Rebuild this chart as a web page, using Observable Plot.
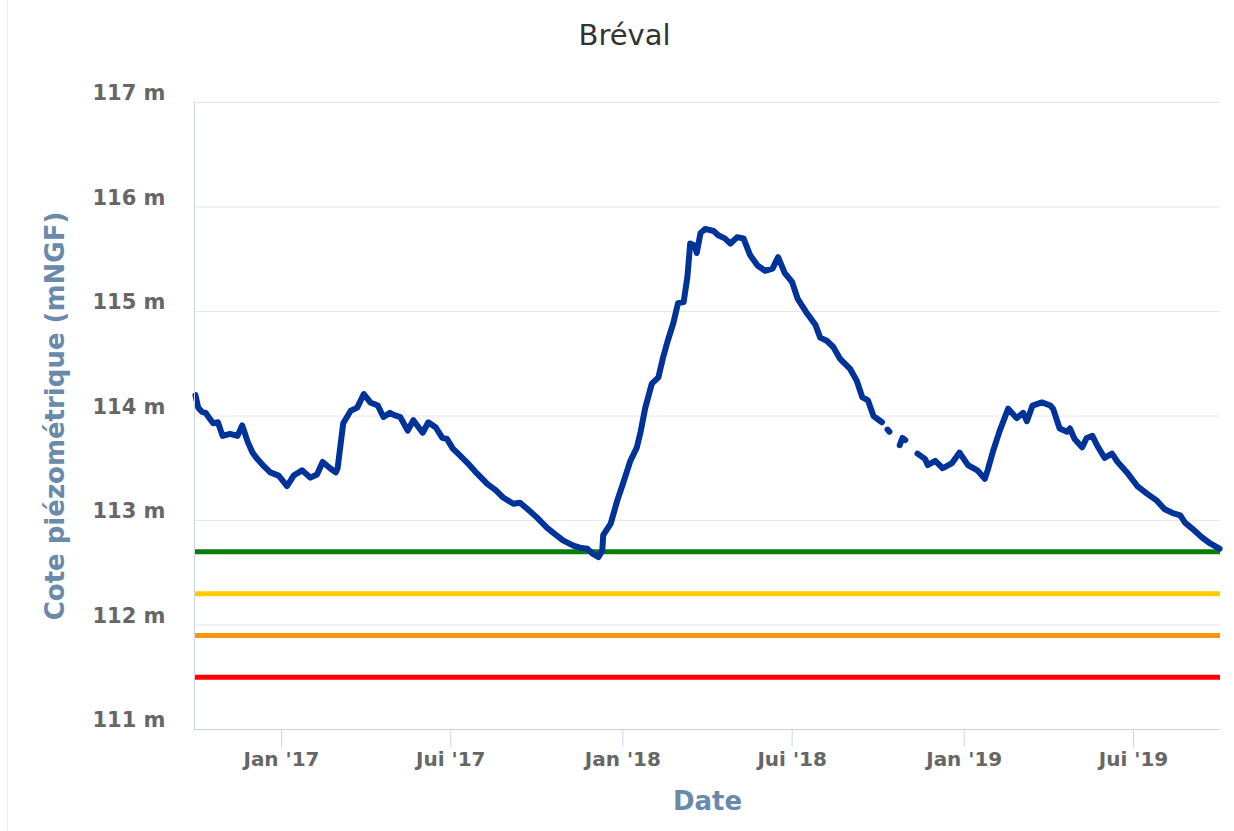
<!DOCTYPE html>
<html>
<head>
<meta charset="utf-8">
<script src="https://cdn.jsdelivr.net/npm/d3@7"></script>
<script src="https://cdn.jsdelivr.net/npm/@observablehq/plot@0.6"></script>
<style>
  html, body { margin: 0; padding: 0; background: #fff; }
  #chart { position: relative; width: 1234px; height: 831px; }
  #edge { position: absolute; left: 7px; top: 0; width: 1px; height: 831px; background: #eeeeee; }
</style>
</head>
<body>
<div id="chart"><div id="edge"></div></div>
<script>
const chartTitle = "Bréval";
const yTitle = "Cote piézométrique (mNGF)";
const xTitle = "Date";

const xDomain = ["2016-09-30", "2019-10-02"];
const yDomain = [111, 117];
const yTicks = [111, 112, 113, 114, 115, 116, 117];
const xTickDates = ["2017-01-01", "2017-07-01", "2018-01-01", "2018-07-01", "2019-01-01", "2019-07-01"];
const xTickLabels = ["Jan '17", "Jui '17", "Jan '18", "Jui '18", "Jan '19", "Jui '19"];

const thresholdValues = [112.7, 112.3, 111.9, 111.5];
const thresholdColors = ["#0a7d0a", "#ffcc00", "#f7960f", "#ff0000"];

const dates = [
"2016-10-01","2016-10-04","2016-10-08","2016-10-12","2016-10-15","2016-10-20","2016-10-25","2016-10-30",
"2016-11-07","2016-11-15","2016-11-20","2016-11-26","2016-12-01","2016-12-06","2016-12-12","2016-12-20","2016-12-29",
"2017-01-07","2017-01-14","2017-01-23","2017-02-01","2017-02-08","2017-02-14","2017-02-22","2017-02-28",
"2017-03-02","2017-03-08","2017-03-16","2017-03-23","2017-03-30","2017-04-06","2017-04-14","2017-04-20","2017-04-27",
"2017-05-01","2017-05-08","2017-05-16","2017-05-22","2017-06-01","2017-06-07","2017-06-15","2017-06-22","2017-06-27",
"2017-07-03","2017-07-11","2017-07-19","2017-07-29","2017-08-09","2017-08-18","2017-08-26","2017-09-06","2017-09-13","2017-09-21",
"2017-10-01","2017-10-12","2017-10-19","2017-10-29","2017-11-09","2017-11-16","2017-11-24","2017-11-30",
"2017-12-06","2017-12-10","2017-12-11","2017-12-19","2017-12-26",
"2018-01-01","2018-01-09","2018-01-16","2018-01-20","2018-01-25","2018-02-01","2018-02-08","2018-02-13","2018-02-18","2018-02-24",
"2018-03-01","2018-03-07","2018-03-11","2018-03-14","2018-03-19","2018-03-21","2018-03-25","2018-03-30",
"2018-04-08","2018-04-13","2018-04-20","2018-04-26","2018-05-03","2018-05-10","2018-05-17","2018-05-25",
"2018-06-02","2018-06-10","2018-06-16","2018-06-23","2018-07-01","2018-07-07","2018-07-17","2018-07-26","2018-07-31",
"2018-08-07","2018-08-14","2018-08-21","2018-09-01","2018-09-08","2018-09-14","2018-09-20","2018-09-26",
"2018-10-05","2018-10-08","2018-10-11","2018-10-13","2018-10-18","2018-10-24","2018-10-27","2018-10-30","2018-11-05",
"2018-11-12","2018-11-20","2018-11-23","2018-12-01","2018-12-09","2018-12-19","2018-12-27",
"2019-01-05","2019-01-15","2019-01-23","2019-01-26","2019-02-01","2019-02-08","2019-02-17","2019-02-26",
"2019-03-05","2019-03-09","2019-03-15","2019-03-25","2019-04-03","2019-04-06","2019-04-13","2019-04-21","2019-04-24","2019-04-29",
"2019-05-07","2019-05-12","2019-05-18","2019-05-23","2019-05-31","2019-06-08","2019-06-14","2019-06-24",
"2019-07-05","2019-07-15","2019-07-26","2019-08-03","2019-08-12","2019-08-20","2019-08-25",
"2019-09-02","2019-09-12","2019-09-21","2019-09-29","2019-10-01"
];

const levels = [
114.20,114.08,114.04,114.03,113.99,113.93,113.94,113.81,
113.83,113.81,113.91,113.75,113.65,113.59,113.53,113.46,113.43,
113.33,113.43,113.48,113.41,113.44,113.56,113.50,113.46,
113.50,113.93,114.05,114.08,114.21,114.13,114.10,113.99,114.03,
114.01,113.99,113.86,113.96,113.84,113.94,113.89,113.79,113.78,
113.69,113.62,113.55,113.45,113.35,113.29,113.22,113.16,113.17,113.11,
113.03,112.93,112.88,112.81,112.76,112.74,112.73,112.68,
112.65,112.71,112.86,112.97,113.19,
113.35,113.57,113.70,113.85,114.08,114.31,114.37,114.56,114.72,114.89,
115.08,115.09,115.33,115.65,115.63,115.56,115.75,115.79,
115.77,115.73,115.70,115.65,115.71,115.70,115.54,115.44,
115.39,115.41,115.52,115.37,115.28,115.12,114.98,114.87,114.75,
114.72,114.66,114.55,114.45,114.34,114.18,114.15,114.00,
113.94,null,113.87,113.85,null,113.72,113.79,113.77,null,
113.64,113.59,113.53,113.57,113.50,113.55,113.65,
113.53,113.48,113.40,113.48,113.67,113.86,114.07,113.98,
114.03,113.95,114.10,114.13,114.10,114.07,113.88,113.85,113.88,113.78,
113.70,113.79,113.81,113.72,113.60,113.64,113.56,113.46,
113.33,113.26,113.19,113.11,113.07,113.05,112.98,
112.92,112.84,112.78,112.74,112.73
];

const series = dates.map((d, i) => ({date: new Date(d), value: levels[i]}));
const thresholds = thresholdValues.map((v, i) => ({value: v, color: thresholdColors[i]}));
const xTicks = xTickDates.map(d => new Date(d));
const labelOf = new Map(xTicks.map((d, i) => [+d, xTickLabels[i]]));

const plot = Plot.plot({
  width: 1234,
  height: 831,
  marginLeft: 194,
  marginRight: 14,
  marginTop: 102,
  marginBottom: 102,
  style: {fontFamily: "DejaVu Sans", fontSize: "20px", fontWeight: "bold", background: "transparent", overflow: "visible"},
  x: {type: "utc", domain: xDomain.map(d => new Date(d))},
  y: {domain: yDomain},
  color: {type: "identity"},
  marks: [
    Plot.gridY(yTicks.slice(1), {stroke: "#e6e6e6", strokeOpacity: 1, strokeWidth: 1}),
    Plot.ruleY(thresholds, {y: "value", stroke: "color", strokeWidth: 5}),
    Plot.line(series, {x: "date", y: "value", stroke: "#003399", strokeWidth: 6, strokeLinejoin: "round", strokeLinecap: "round"}),
    Plot.ruleX([xDomain[0]].map(d => new Date(d)), {stroke: "#ccd6eb", strokeWidth: 1}),
    Plot.ruleY([yDomain[0]], {stroke: "#ccd6eb", strokeWidth: 1}),
    Plot.axisY({ticks: yTicks, tickFormat: d => `${d} m`, tickSize: 0, tickPadding: 29, dy: -9, fill: "#666666", stroke: "none", fontSize: 21, label: null}),
    Plot.axisX({ticks: xTicks, tickFormat: d => labelOf.get(+d), tickSize: 18, tickPadding: 4, stroke: "#ccd6eb", fill: "#666666", label: null}),
    Plot.text([chartTitle], {text: d => d, frameAnchor: "top", dx: -83, dy: -78, fill: "#333333", fontSize: 29, fontWeight: "normal"}),
    Plot.text([yTitle], {text: d => d, frameAnchor: "left", textAnchor: "middle", dx: -139, rotate: -90, fill: "#6a8aab", fontSize: 26, fontWeight: "bold"}),
    Plot.text([xTitle], {text: d => d, frameAnchor: "bottom", dy: 80, fill: "#6a8aab", fontSize: 26, fontWeight: "bold"})
  ]
});
document.getElementById("chart").appendChild(plot);
plot.style.position = "absolute";
plot.style.left = "0";
plot.style.top = "0";
</script>
</body>
</html>
